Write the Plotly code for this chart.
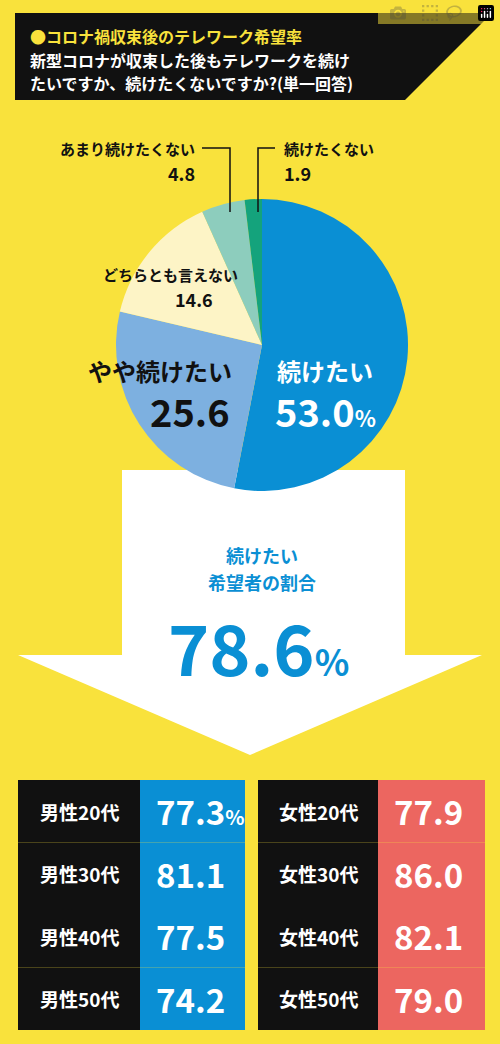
import plotly.graph_objects as go

W, H = 500, 1044
pie_labels = ['続けたい', 'やや続けたい', 'どちらとも言えない', 'あまり続けたくない', '続けたくない']
pie_values = [53.0, 25.6, 14.6, 4.8, 1.9]
pie_colors = ['#0a8fd4', '#7db0e0', '#fdf4c6', '#8dcdbd', '#14a37c']

male_labels = ['男性20代', '男性30代', '男性40代', '男性50代']
male_values = ['77.3', '81.1', '77.5', '74.2']
female_labels = ['女性20代', '女性30代', '女性40代', '女性50代']
female_values = ['77.9', '86.0', '82.1', '79.0']

FONT = 'Noto Sans CJK JP'
YEL = '#f9e23c'

fig = go.Figure()
cx, cy, r = 262, 345, 146
fig.add_trace(go.Pie(
    labels=pie_labels, values=pie_values, sort=False, direction='clockwise', rotation=0,
    marker=dict(colors=pie_colors, line=dict(width=0)), textinfo='none', hoverinfo='label+value',
    showlegend=False,
    domain=dict(x=[(cx - r) / W, (cx + r) / W], y=[(H - cy - r) / H, (H - cy + r) / H]),
))
# invisible scatter to create pixel axes
fig.add_trace(go.Scatter(x=[0, W], y=[0, H], mode='markers', marker=dict(opacity=0), hoverinfo='skip', showlegend=False))

shapes = []
def rect(x0, y0, x1, y1, color):
    shapes.append(dict(type='rect', x0=x0, y0=y0, x1=x1, y1=y1, fillcolor=color, line=dict(width=0), layer='below'))

def path(p, color, layer='below', line=None):
    shapes.append(dict(type='path', path=p, fillcolor=color, line=line or dict(width=0), layer=layer))

# header
path('M15,13 L492,13 L405,100 L15,100 Z', '#111111')
# arrow
path('M122,470 L405,470 L405,655 L482,655 L250,755 L18,655 L122,655 Z', 'white')
# leader lines
for p in ['M202,148 L230,148 L230,212', 'M275,148 L258,148 L258,212']:
    shapes.append(dict(type='path', path=p, line=dict(color='#111', width=1.5), layer='above'))

ann = []
def txt(x, y, s, size, color='#111', xanchor='left'):
    ann.append(dict(x=x, y=y, text=s, showarrow=False, xanchor=xanchor, yanchor='middle',
                    font=dict(family=FONT, size=size, color=color)))

txt(28, 36, '<b>●コロナ禍収束後のテレワーク希望率</b>', 16, YEL)
txt(28, 60, '<b>新型コロナが収束した後もテレワークを続け</b>', 16, 'white')
txt(28, 83, '<b>たいですか、続けたくないですか?(単一回答)</b>', 16, 'white')

txt(197, 148, '<b>あまり続けたくない</b>', 15, xanchor='right')
txt(197, 173, '<b>4.8</b>', 18, xanchor='right')
txt(282, 148, '<b>続けたくない</b>', 15)
txt(282, 173, '<b>1.9</b>', 18)
txt(240, 274, '<b>どちらとも言えない</b>', 15, xanchor='right')
txt(215, 299, '<b>14.6</b>', 18, xanchor='right')
txt(234, 370, '<b>やや続けたい</b>', 24, xanchor='right')
txt(232, 410, '<b>25.6</b>', 38, xanchor='right')
txt(275, 370, '<b>続けたい</b>', 24, 'white')
txt(273, 410, '<b>53.0</b><span style="font-size:22px"><b>%</b></span>', 38, 'white')

txt(262, 555, '<b>続けたい</b>', 18, '#0a8fd4', 'center')
txt(262, 582, '<b>希望者の割合</b>', 18, '#0a8fd4', 'center')
txt(258, 645, '<b>78.6</b><span style="font-size:36px"><b>%</b></span>', 70, '#0a8fd4', 'center')

row_h = 62.5
for i in range(4):
    y0 = 780 + i * row_h
    yc = y0 + row_h / 2
    rect(18, y0, 140, y0 + row_h, '#111111')
    rect(140, y0, 245, y0 + row_h, '#0a8fd4')
    rect(258, y0, 378, y0 + row_h, '#111111')
    rect(378, y0, 485, y0 + row_h, '#ec6660')
    txt(79, yc, '<b>' + male_labels[i] + '</b>', 19, 'white', 'center')
    mv = '<b>' + male_values[i] + '</b>' + ('<span style="font-size:20px"><b>%</b></span>' if i == 0 else '')
    txt(154, yc, mv, 33, 'white')
    txt(318, yc, '<b>' + female_labels[i] + '</b>', 19, 'white', 'center')
    txt(392, yc, '<b>' + female_values[i] + '</b>', 33, 'white')

fig.update_layout(
    width=W, height=H, margin=dict(l=0, r=0, t=0, b=0),
    paper_bgcolor=YEL, plot_bgcolor=YEL,
    xaxis=dict(range=[0, W], visible=False, fixedrange=True),
    yaxis=dict(range=[H, 0], visible=False, fixedrange=True),
    shapes=shapes, annotations=ann,
)
fig.write_html('out.html', post_script="document.body.style.margin='0';document.body.style.overflow='hidden';")
